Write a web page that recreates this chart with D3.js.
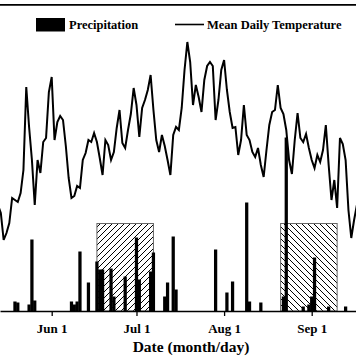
<!DOCTYPE html>
<html>
<head>
<meta charset="utf-8">
<script src="https://cdn.jsdelivr.net/npm/d3@7/dist/d3.min.js"></script>
<style>
  html, body { margin: 0; padding: 0; background: #fff; }
  svg { display: block; }
  text { font-family: "Liberation Serif", "Times New Roman", serif; font-weight: bold; fill: #000; }
</style>
</head>
<body>
<svg id="chart" width="356" height="356"></svg>
<script>
// ---------------- DATA ----------------
// Mean daily temperature (°C), one value per day starting at tempStart
const tempStart = "2000-05-13";
const temperature = [
  10.7, 9.9, 7.2, 7.9, 8.9, 11.4, 11.2, 11.0, 11.9, 14.2,
  22.5, 18.5, 15.2, 10.7, 15.2, 13.9, 17.0, 17.4, 22.0, 23.5,
  17.2, 19.0, 19.6, 19.2, 16.6, 13.4, 11.4, 11.6, 12.6, 12.4,
  15.2, 15.9, 17.2, 17.0, 17.9, 17.0, 15.4, 13.7, 17.2, 16.7,
  15.2, 16.0, 18.4, 20.2, 16.9, 16.4, 18.2, 19.8, 22.4, 20.7,
  17.5, 20.4, 21.2, 22.2, 23.7, 20.2, 17.2, 16.0, 17.7, 16.6,
  15.2, 13.7, 17.7, 18.5, 18.2, 20.4, 24.2, 27.0, 25.0, 20.7,
  22.7, 21.5, 20.0, 23.2, 24.6, 25.0, 24.6, 19.2, 21.2, 24.2,
  25.2, 22.2, 20.0, 18.4, 18.5, 15.7, 17.2, 20.7, 17.7, 17.2,
  16.0, 15.5, 16.4, 14.7, 13.5, 16.2, 18.7, 20.0, 20.2, 22.7,
  20.4, 19.8, 18.2, 15.2, 13.8, 17.2, 19.9, 17.4, 17.0, 17.8,
  16.4, 15.2, 14.4, 15.7, 15.0, 16.2, 18.7, 14.7, 11.2, 13.2,
  10.4, 17.4, 16.8, 15.2, 10.2, 7.4, 9.2, 10.7
];

// Daily precipitation (mm)
const precipDates = [
  "2000-05-19","2000-05-20","2000-05-24","2000-05-25","2000-05-26",
  "2000-06-08","2000-06-09","2000-06-10","2000-06-11","2000-06-14",
  "2000-06-17","2000-06-18","2000-06-19","2000-06-22","2000-06-23",
  "2000-06-27","2000-07-01","2000-07-02","2000-07-06","2000-07-07",
  "2000-07-11","2000-07-12","2000-07-14","2000-07-15","2000-07-29",
  "2000-08-02","2000-08-04","2000-08-09","2000-08-10","2000-08-14",
  "2000-08-22","2000-08-23","2000-08-29","2000-08-31","2000-09-01",
  "2000-09-02","2000-09-07","2000-09-13"
];
const precipitation = [
  1.9, 1.7, 1.3, 14.3, 2.1,
  1.9, 1.3, 1.9, 11.9, 5.7,
  9.9, 8.3, 8.3, 8.5, 2.9,
  6.9, 14.7, 6.3, 7.9, 11.7,
  2.9, 5.7, 14.9, 4.3, 12.3,
  3.7, 5.9, 21.7, 1.9, 1.7,
  2.9, 34.7, 0.9, 1.3, 2.9,
  10.7, 0.9, 0.9
];

// Hatched periods
const periodStart = ["2000-06-17", "2000-08-21"];
const periodEnd   = ["2000-07-07", "2000-09-10"];
const periodLevel = [17.5, 17.5];
const periodHatch = ["fwd", "back"];

// Axis ticks
const tickDates = ["2000-06-01", "2000-07-01", "2000-08-01", "2000-09-01"];

// Legend / title texts
const legendLabels = ["Precipitation", "Mean Daily Temperature"];
const xTitle = "Date (month/day)";

// ---------------- CHART ----------------
const W = 356, H = 356;
const parse = d3.utcParse("%Y-%m-%d");
const svg = d3.select("#chart");

const xRef = d3.scaleUtc()
  .domain([parse("2000-06-01"), parse("2000-09-01")])
  .range([51.7, 311.7]);
const x = d3.scaleUtc()
  .domain([xRef.invert(0), xRef.invert(W)])
  .range([0, W]);

const baseY = 311;
const yT = d3.scaleLinear().domain([0, 30]).range([312, 12]);
const yP = d3.scaleLinear().domain([0, 60]).range([baseY, baseY - 300]);

const t0 = parse(tempStart);
const tempData = temperature.map((t, i) => ({ date: d3.utcDay.offset(t0, i), t }));
const precipData = precipDates.map((d, i) => ({ date: parse(d), p: precipitation[i] }));

// patterns
const defs = svg.append("defs");
const pf = defs.append("pattern").attr("id", "fwd")
  .attr("patternUnits", "userSpaceOnUse").attr("width", 6).attr("height", 6);
pf.append("path").attr("d", "M0,6 L6,0 M-1.5,1.5 L1.5,-1.5 M4.5,7.5 L7.5,4.5")
  .attr("stroke", "#000").attr("stroke-width", 1);
const pb = defs.append("pattern").attr("id", "back")
  .attr("patternUnits", "userSpaceOnUse").attr("width", 6).attr("height", 6);
pb.append("path").attr("d", "M0,0 L6,6 M-1.5,4.5 L1.5,7.5 M4.5,-1.5 L7.5,1.5")
  .attr("stroke", "#000").attr("stroke-width", 1);

// hatched periods
svg.append("g").selectAll("rect")
  .data(periodStart.map((s, i) => ({ s: parse(s), e: parse(periodEnd[i]), lvl: periodLevel[i], h: periodHatch[i] })))
  .join("rect")
  .attr("x", d => x(d.s))
  .attr("width", d => x(d.e) - x(d.s))
  .attr("y", d => yP(d.lvl))
  .attr("height", d => yP(0) - yP(d.lvl))
  .attr("fill", d => `url(#${d.h})`)
  .attr("stroke", "#666")
  .attr("stroke-width", 1);

// precipitation bars
const dayW = x(d3.utcDay.offset(t0, 1)) - x(t0);
const barW = dayW * 1.15;
svg.append("g").selectAll("rect")
  .data(precipData)
  .join("rect")
  .attr("x", d => x(d.date) - barW / 2)
  .attr("width", barW)
  .attr("y", d => yP(d.p))
  .attr("height", d => yP(0) - yP(d.p))
  .attr("fill", "#000");

// temperature line
svg.append("path")
  .datum(tempData)
  .attr("fill", "none")
  .attr("stroke", "#000")
  .attr("stroke-width", 2)
  .attr("stroke-linejoin", "miter")
  .attr("d", d3.line().x(d => x(d.date)).y(d => yT(d.t)));

// top frame line
svg.append("line")
  .attr("x1", 0).attr("x2", W).attr("y1", 4.8).attr("y2", 4.8)
  .attr("stroke", "#000").attr("stroke-width", 1.8);

// x axis
const axis = svg.append("g")
  .attr("transform", `translate(0,${baseY})`)
  .call(d3.axisBottom(x)
    .tickValues(tickDates.map(parse))
    .tickFormat(d3.utcFormat("%b %-d"))
    .tickSize(5)
    .tickSizeOuter(0)
    .tickPadding(4));
axis.select(".domain").attr("stroke", "#000").attr("stroke-width", 1.5);
axis.selectAll(".tick line").attr("stroke", "#000").attr("stroke-width", 1.3);
axis.selectAll(".tick text")
  .attr("font-family", "Liberation Serif, serif")
  .attr("font-weight", "bold")
  .attr("font-size", 13)
  .attr("fill", "#000")
  .attr("dy", null)
  .attr("y", 22);

// axis title
svg.append("text")
  .attr("x", 191).attr("y", 352)
  .attr("text-anchor", "middle")
  .attr("font-size", 15.5)
  .text(xTitle);

// legend
const lg = svg.append("g");
lg.append("rect").attr("x", 36).attr("y", 18).attr("width", 29).attr("height", 13.5).attr("fill", "#000");
lg.append("text").attr("x", 69).attr("y", 29).attr("font-size", 12.5).text(legendLabels[0]);
lg.append("line").attr("x1", 175).attr("x2", 204).attr("y1", 24.5).attr("y2", 24.5)
  .attr("stroke", "#000").attr("stroke-width", 1.6);
lg.append("text").attr("x", 207).attr("y", 29).attr("font-size", 12.5).text(legendLabels[1]);
</script>
</body>
</html>
